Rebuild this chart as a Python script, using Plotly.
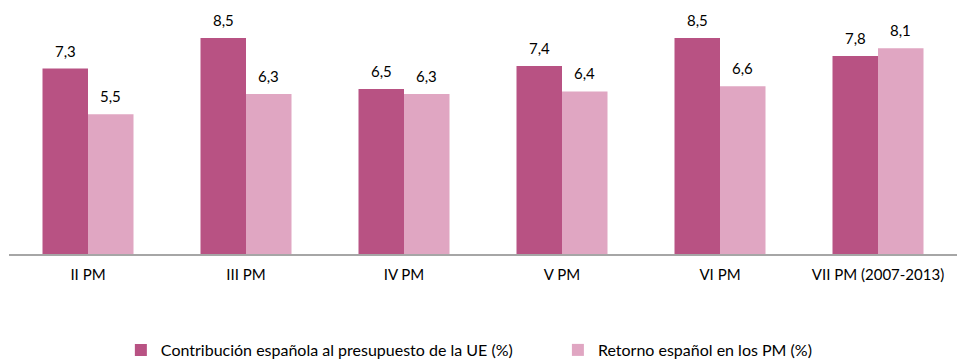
import plotly.graph_objects as go

# Framework programmes and the two percentages compared for each
programas = ["II PM", "III PM", "IV PM", "V PM", "VI PM", "VII PM (2007-2013)"]
contribucion = [7.3, 8.5, 6.5, 7.4, 8.5, 7.8]
retorno = [5.5, 6.3, 6.3, 6.4, 6.6, 8.1]
nombres = ["Contribución española al presupuesto de la UE (%)",
           "Retorno español en los PM (%)"]

COLOR_OSCURO = "#B85283"
COLOR_CLARO = "#E0A6C2"
FUENTE = "Lato"
W, H = 957, 359
MARGIN_L, MARGIN_R, MARGIN_T, MARGIN_B = 9, 0, 0, 105

fig = go.Figure()
fig.add_trace(go.Bar(x=programas, y=contribucion, name=nombres[0],
                     legend="legend",
                     marker=dict(color=COLOR_OSCURO, line=dict(width=0))))
fig.add_trace(go.Bar(x=programas, y=retorno, name=nombres[1],
                     legend="legend2",
                     marker=dict(color=COLOR_CLARO, line=dict(width=0))))

# value labels above each bar, offset to the left/right bar of the group
plot_w = W - MARGIN_L - MARGIN_R
plot_h = H - MARGIN_T - MARGIN_B
cat_w = plot_w / len(programas)
bargap = 0.424
bar_w = cat_w * (1 - bargap) / 2
for serie, sign in ((contribucion, -1), (retorno, 1)):
    for cat, val in zip(programas, serie):
        fig.add_annotation(x=cat, y=val, text=f"{val:.1f}".replace(".", ","),
                           showarrow=False, xshift=sign * bar_w / 2,
                           yshift=18, yanchor="middle",
                           font=dict(family=FUENTE, size=15, color="#000000"))

# legends placed relative to the whole canvas, near its bottom edge
legend_common = dict(orientation="h", xanchor="left", yref="container",
                     y=(H - 350) / H, yanchor="middle", font=dict(size=16),
                     itemwidth=30, bgcolor="rgba(0,0,0,0)")

fig.update_layout(
    width=W, height=H,
    margin=dict(l=MARGIN_L, r=MARGIN_R, t=MARGIN_T, b=MARGIN_B),
    barmode="group", bargap=bargap, bargroupgap=0,
    plot_bgcolor="white", paper_bgcolor="white",
    font=dict(family=FUENTE, size=15, color="#000000"),
    xaxis=dict(showline=True, linecolor="#A6A6A6", linewidth=1.5,
               ticks="outside", ticklen=6, tickcolor="rgba(0,0,0,0)",
               showgrid=False, tickfont=dict(size=15)),
    yaxis=dict(range=[0, 10], visible=False, showgrid=False),
    legend=dict(x=0.118, **legend_common),
    legend2=dict(x=0.579, **legend_common),
    showlegend=True,
)

fig.write_html("out.html")
